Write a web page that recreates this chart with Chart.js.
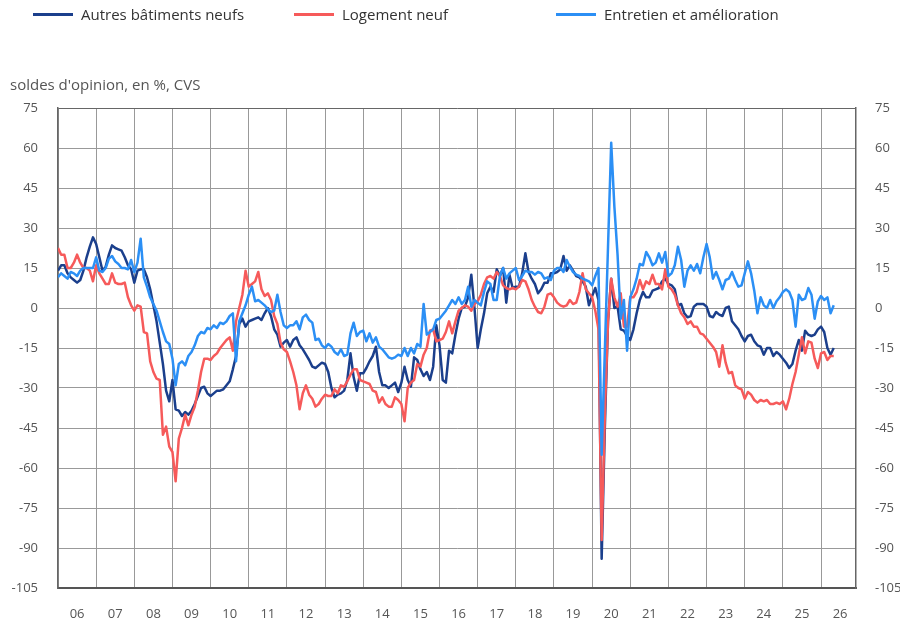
<!DOCTYPE html>
<html lang="fr">
<head>
<meta charset="utf-8">
<title>Bâtiment : soldes d'opinion</title>
<script src="https://cdn.jsdelivr.net/npm/chart.js@4.4.1/dist/chart.umd.min.js"></script>
<style>
    body { margin: 0; background: #fff; font-family: 'Open Sans', sans-serif; }
    #wrap { position: relative; width: 900px; height: 624px; }
    #chart { position: absolute; left: 0; top: 0; }
    .item { position: absolute; top: 4px; display: flex; align-items: center; font-size: 15px; color: #333; white-space: nowrap; }
    .item .sw { display: inline-block; width: 40px; height: 3px; margin-right: 8px; }
    #unit { position: absolute; left: 10px; top: 74px; font-size: 15px; color: #555; }
</style>
</head>
<body>
<div id="wrap">
    <canvas id="chart" width="900" height="624"></canvas>
    <div class="item" style="left:33px"><span class="sw" style="background:#1b3f8c"></span>Autres bâtiments neufs</div>
    <div class="item" style="left:294px"><span class="sw" style="background:#f65a5a"></span>Logement neuf</div>
    <div class="item" style="left:556px"><span class="sw" style="background:#2b8ff5"></span>Entretien et amélioration</div>
    <div id="unit">soldes d'opinion, en %, CVS</div>
</div>
<script>
// Monthly series, January 2006 onwards (one row per year)
const yearLabels = ['06', '07', '08', '09', '10', '11', '12', '13', '14', '15', '16',
    '17', '18', '19', '20', '21', '22', '23', '24', '25', '26'];

const autresBatiments = [
    14, 16, 16, 13, 11.5, 10.5, 9.5, 10.5, 14, 19, 23, 26.5,
    24, 19, 14, 15.5, 20, 23.5, 22.5, 22, 21.5, 19, 16, 14.5,
    9.5, 14, 14.5, 14.5, 11.5, 7, 1, -5, -13, -21, -31, -35,
    -27, -38, -38.5, -40.5, -39, -40, -38.5, -36, -33, -30, -29.5, -32,
    -33, -32, -31, -31, -30.5, -29, -27.5, -23, -18, -6, -4, -7,
    -5, -4.5, -4, -3.5, -4.5, -2, 0, -3, -8, -10, -14.5, -13,
    -12, -14.5, -12, -11, -14, -15.5, -17.5, -19.5, -22, -22.5, -21.5, -20.5,
    -21, -24, -30, -33.5, -32.5, -32, -31, -27, -17, -26, -31, -24.5,
    -24.5, -22.5, -20, -18, -14.5, -24, -29, -29, -30, -29, -28, -31.5,
    -28, -22, -27, -29.5, -18.5, -19.5, -23, -25.5, -24, -27, -22, -6.5,
    -14, -27, -28, -16, -17, -10, -4, 0, 0.5, 4, 12.5, 0,
    -15, -8, -2, 5.5, 8, 6, 14.5, 12, 15, 2, 12.5, 7.5,
    8, 8, 13, 20.5, 13.5, 11, 9, 5.5, 7, 9.5, 9.5, 13,
    13, 13.5, 14.5, 19.5, 14, 16, 14, 12, 11.5, 10, 8, 1,
    4.5, 7.5, 3, -94, -45, -5, 11, 0, 0.5, -8, -8.5, -10.5,
    -12, -8, -2, 3, 6, 4, 4, 6.5, 7, 7.5, 10, 11,
    9, 8.5, 7, 1, 1.5, -2, -3.5, -3, 0.5, 1.5, 1.5, 1.5,
    0.5, -3, -3.5, -1.5, -2.5, -3, 0, 0.5, -5, -6.5, -8, -10.5,
    -12.5, -10.5, -10, -12.5, -14, -14.5, -17.5, -15, -15, -18, -16.5, -17.5,
    -19, -20.5, -22.5, -21, -16, -12, -16, -8.5, -10, -10.5, -10, -8,
    -7, -9, -15, -17.5, -15
];

const logementNeuf = [
    22.5, 20, 20, 15, 15, 17, 20, 17, 15, 15, 14, 10,
    16, 13, 11, 9, 9, 13, 9.5, 9, 9, 9.5, 4, 1,
    -1, 1, 0.5, -9, -9.5, -20, -24, -26.5, -27, -47.5, -44.5, -52,
    -54, -65, -49, -45, -40, -44, -40, -37, -31, -24, -19, -19,
    -19.5, -18, -17, -15, -13.5, -12, -11, -16, -5, 0, 5, 14,
    8, 9, 10, 13.5, 7, 4.5, 5.5, 3, -3, -6, -13, -15.5,
    -16.5, -20, -24, -29, -38, -32, -29, -32.5, -34, -37, -36, -34,
    -32.5, -33, -33, -30.5, -32, -29, -29.5, -27.5, -25, -23, -23, -27,
    -27.5, -28, -28.5, -31, -31.5, -35.5, -33.5, -36, -37, -37, -33.5, -34.5,
    -36, -42.5, -30, -28, -27, -21, -22, -17.5, -15, -8.5, -8, -12.5,
    -12, -11.5, -9, -5, -9.5, -5, -1, 0, 1, 0.5, -1, 1.5,
    2.5, 5, 9, 11.5, 12, 11, 13.5, 12, 8.5, 7.5, 7, 7.5,
    7, 8, 10.5, 10, 7, 3, 0.5, -1.5, -2, 0.5, 5, 5.5,
    4, 2, 1, 0.5, 1, 3, 1.5, 2, 6, 13, 7, 5.5,
    4, -1, -8, -87, -40, -5, 11, 4, 0.5, 5.5, -7, -7,
    4, 4, 6, 10.5, 7, 10, 9, 12.5, 9, 9, 7, 14.5,
    8, 7, 5, 1, -2, -3.5, -6, -5, -7, -7, -9.5, -10,
    -11.5, -13, -14.5, -16.5, -22, -14, -20.5, -24.5, -24, -29, -30, -30.5,
    -34, -31.5, -32.5, -34.5, -35.5, -34.5, -35, -34.5, -36, -36, -35.5, -36,
    -35, -38, -34, -28.5, -24, -17.5, -11, -17, -12.5, -13, -19, -22.5,
    -17, -16.5, -19.5, -18, -18
];

const entretien = [
    11.5, 13, 12, 11, 13.5, 13, 12, 14, 15, 15, 15, 15,
    19, 14, 13.5, 15, 18.5, 19.5, 17.5, 16.5, 15, 15, 14.5, 18,
    13.5, 17, 26, 11.5, 8, 4, 1.5, -1, -5, -9, -12.5, -13.5,
    -19, -29, -21, -20, -21.5, -18, -16.5, -14, -10.5, -9, -9.5, -7.5,
    -8, -6.5, -7.5, -5.5, -6, -5, -3, -2, -20, -5, -2, 1,
    5, 8, 2.5, 3, 2, 1, -0.5, -1.5, -1, 5, -1.5, -6.5,
    -7.5, -6.5, -6.5, -5, -8, -3.5, -2.5, -4.5, -5.5, -12, -11.5, -14,
    -15, -13.5, -14.5, -16.5, -17.5, -15.5, -18, -17.5, -9.5, -5.5, -10.5, -9,
    -8.5, -12.5, -9.5, -13, -11, -14.5, -15.5, -17, -18.5, -19, -18.5, -17.5,
    -18, -15, -18, -15, -17, -13.5, -14.5, 1.5, -10, -9, -8, -4.5,
    -4, -2.5, -1, 1, 3, 1.5, 4, 1.5, 3, 8, 0.5, 3,
    2, 1, 6, 10, 9, 3, 3, 12, 15, 11, 13, 14,
    15, 10.5, 12, 14, 13.5, 13.5, 12.5, 13.5, 13, 11, 11.5, 10.5,
    14, 15, 15, 13.5, 18, 15.5, 13.5, 12.5, 12, 11, 10.5, 10,
    8.5, 12, 15, -55, -16, 23, 62, 38, 20, -4, 3, -16,
    4, 7, 11, 16.5, 16, 21, 19, 16, 17, 20.5, 17, 21,
    12, 13, 16, 23, 18, 8, 14, 16, 14, 16.5, 13, 19,
    24, 19, 11, 13.5, 10.5, 7, 10.5, 11, 13.5, 10.5, 8, 8.5,
    13, 17.5, 13, 6.5, -2, 4, 1, 0, 3, 0, 2.5, 4,
    6, 7, 6, 3, -7, 5, 3, 3.5, 7.5, 5, -4, 2.5,
    4.5, 3, 4, -2, 1
];

const toPoints = values => values.map((y, i) => ({ x: i, y }));

Chart.defaults.font.family = "'Open Sans', sans-serif";
Chart.defaults.font.size = 13;
Chart.defaults.color = '#555';

const gridColor = '#999';

const yAxis = (position, width) => ({
    position,
    min: -105,
    max: 75,
    ticks: { stepSize: 15, padding: position === 'right' ? 19 : 20, callback: v => String(v) },
    grid: {
        drawTicks: false,
        color: ctx => position === 'right' ? 'rgba(0,0,0,0)' : (ctx.tick.value === 75 ? '#666' : gridColor)
    },
    border: { color: '#666', width: 1.5 },
    afterFit: scale => { scale.width = width; }
});

new Chart(document.getElementById('chart'), {
    type: 'line',
    data: {
        datasets: [
            { label: 'Autres bâtiments neufs', data: toPoints(autresBatiments), borderColor: '#1b3f8c', order: 3 },
            { label: 'Logement neuf', data: toPoints(logementNeuf), borderColor: '#f65a5a', order: 2 },
            { label: 'Entretien et amélioration', data: toPoints(entretien), borderColor: '#2b8ff5', order: 1 }
        ]
    },
    options: {
        responsive: false,
        animation: false,
        devicePixelRatio: 1,
        layout: { padding: { top: 108 } },
        elements: {
            line: { borderWidth: 2.5, tension: 0, borderJoinStyle: 'round' },
            point: { radius: 0 }
        },
        plugins: {
            legend: { display: false },
            tooltip: { enabled: false }
        },
        scales: {
            x: {
                type: 'linear',
                min: 0,
                max: 251,
                afterBuildTicks: scale => {
                    // gridlines at each January, labels in the middle of each year
                    const ticks = [];
                    for (let v = 0; v <= 246; v += 6) ticks.push({ value: v });
                    scale.ticks = ticks;
                },
                ticks: {
                    autoSkip: false,
                    maxRotation: 0,
                    padding: 18,
                    callback: v => v % 12 === 6 ? yearLabels[(v - 6) / 12] : ''
                },
                grid: {
                    drawTicks: false,
                    color: ctx => ctx.tick && ctx.tick.value % 12 === 0 ? gridColor : 'rgba(0,0,0,0)'
                },
                border: { color: '#555', width: 2 },
                afterFit: scale => { scale.height = 36; }
            },
            y: yAxis('left', 58),
            y2: yAxis('right', 44)
        }
    }
});
</script>
</body>
</html>
